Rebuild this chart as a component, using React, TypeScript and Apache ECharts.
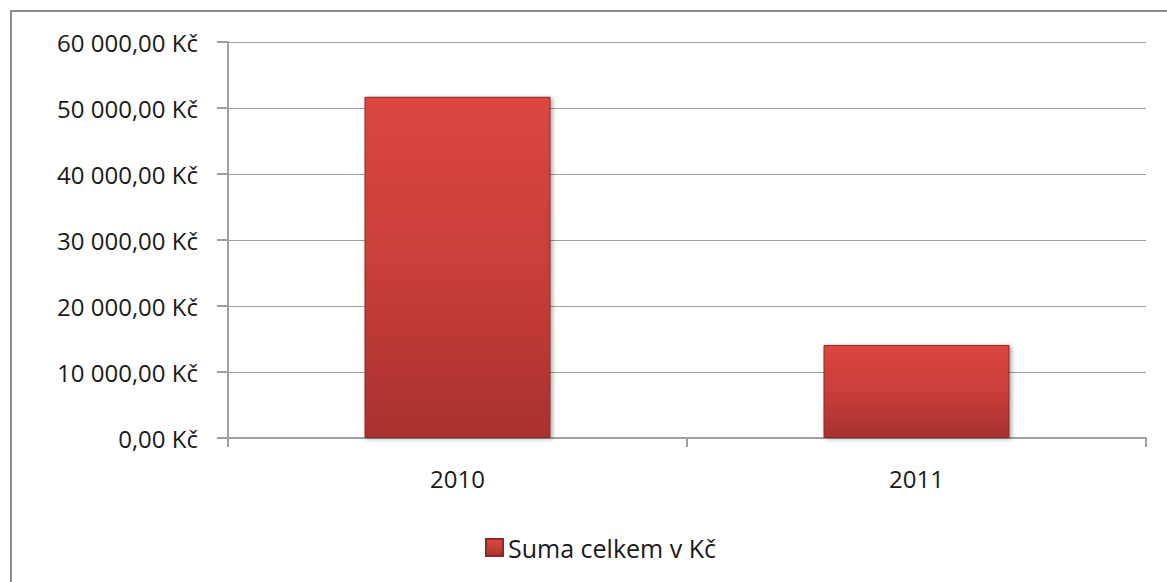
import React, { useEffect, useRef } from "react";
import * as echarts from "echarts";

const categories = ["2010", "2011"];
const seriesName = "Suma celkem v Kč";
const values = [51700, 14100];
const yMin = 0;
const yMax = 60000;
const yInterval = 10000;

function fmt(v: number): string {
  const s = Math.round(v).toString().replace(/\B(?=(\d{3})+(?!\d))/g, " ");
  return s + ",00 Kč";
}

export default function App() {
  const ref = useRef<HTMLDivElement>(null);
  useEffect(() => {
    if (!ref.current) return;
    const chart = echarts.init(ref.current, undefined, { renderer: "svg" });
    const font = "Open Sans";
    chart.setOption({
      animation: false,
      backgroundColor: "#ffffff",
      textStyle: { fontFamily: font },
      graphic: [
        {
          type: "rect",
          shape: { x: 11, y: 11, width: 1200, height: 700 },
          style: { fill: "none", stroke: "#8c8c8c", lineWidth: 2 },
          silent: true,
        },
      ],
      grid: { left: 228, right: 21, top: 42, bottom: 144 },
      legend: {
        data: [seriesName],
        bottom: 17,
        left: 480,
        itemWidth: 17,
        itemHeight: 17,
        itemGap: 7,
        icon: "rect",
        textStyle: { fontFamily: font, fontSize: 25, color: "#1a1a1a" },
      },
      xAxis: {
        type: "category",
        data: categories,
        boundaryGap: true,
        axisLine: { lineStyle: { color: "#a0a0a0", width: 2 } },
        axisTick: { show: true, length: 9, alignWithLabel: false, lineStyle: { color: "#a0a0a0", width: 2 } },
        axisLabel: { fontFamily: font, fontSize: 24, color: "#1a1a1a", margin: 28 },
      },
      yAxis: {
        type: "value",
        min: yMin,
        max: yMax,
        interval: yInterval,
        axisLine: { show: true, lineStyle: { color: "#a0a0a0", width: 2 } },
        axisTick: { show: true, length: 11, lineStyle: { color: "#a0a0a0", width: 2 } },
        splitLine: { show: true, lineStyle: { color: "#a0a0a0", width: 1 } },
        axisLabel: {
          fontFamily: font,
          fontSize: 24,
          color: "#1a1a1a",
          margin: 30,
          formatter: (v: number) => fmt(v),
        },
      },
      series: [
        {
          name: seriesName,
          type: "bar",
          data: values,
          barWidth: 186,
          itemStyle: {
            color: new echarts.graphic.LinearGradient(0, 0, 0, 1, [
              { offset: 0, color: "#dc4641" },
              { offset: 0.5, color: "#c93e3a" },
              { offset: 1, color: "#a8312e" },
            ]),
            borderColor: "#8a2a27",
            borderWidth: 1,
            shadowColor: "rgba(0,0,0,0.35)",
            shadowBlur: 4,
            shadowOffsetX: 2,
            shadowOffsetY: 1,
          },
        },
      ],
    });
    return () => chart.dispose();
  }, []);
  return (
    <div
      ref={ref}
      style={{ position: "fixed", left: 0, top: 0, width: 1167, height: 582 }}
    />
  );
}
